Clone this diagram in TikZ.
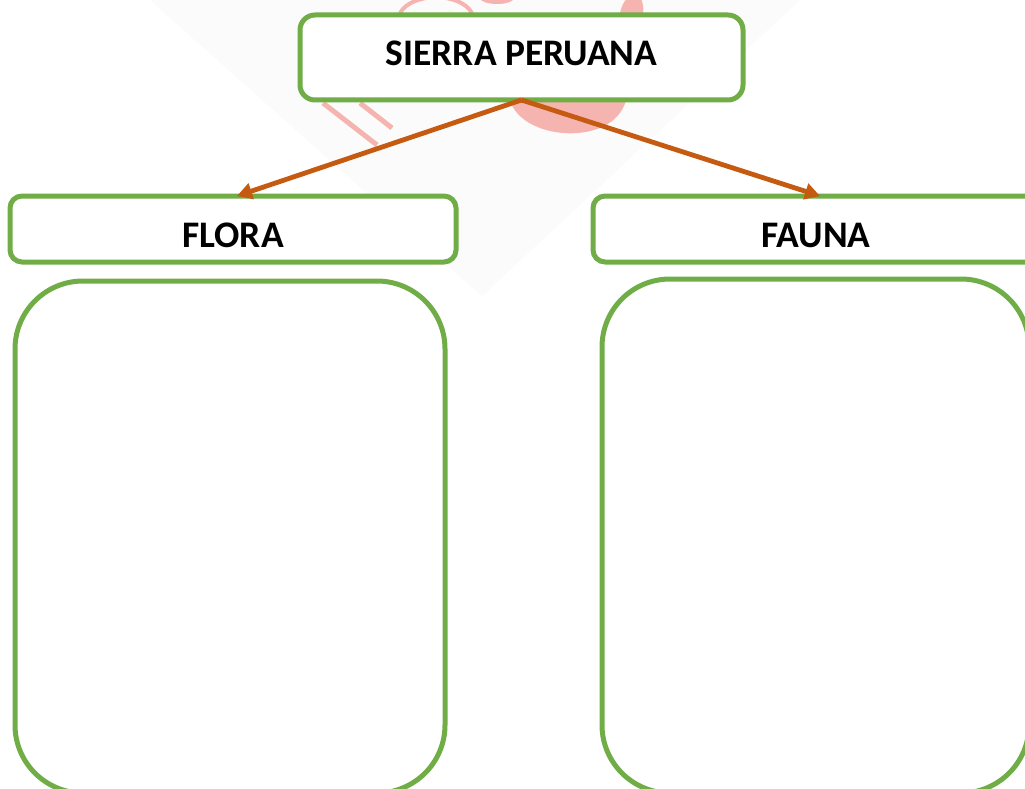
\documentclass[tikz,border=0pt]{standalone}
\usepackage{fontspec}
\setmainfont{Carlito}
\usetikzlibrary{arrows.meta}
\definecolor{boxgreen}{HTML}{70AD47}
\definecolor{arroworange}{HTML}{C55A11}
\definecolor{wmpink}{HTML}{F6A8A4}
\tikzset{
  greenbox/.style={draw=boxgreen, line width=5pt, fill=white, inner sep=0pt, outer sep=0pt,
    font=\bfseries\fontsize{37.5}{42}\selectfont, align=center},
  connector/.style={draw=arroworange, line width=4.8pt, -{Triangle[length=15pt,width=16pt]}},
  watermark/.style={wmpink, opacity=0.85},
}
\begin{document}
\begin{tikzpicture}[x=1pt,y=-1pt]
\useasboundingbox (0,0) rectangle (1025,789);
\fill[white] (0,0) rectangle (1025,789);
% faint watermark
\fill[black!1.5] (150,0) -- (482,296) -- (800,0) -- cycle;
\fill[watermark] (509,95) .. controls (514,142) and (620,150) .. (627,95) -- cycle;
\draw[watermark, line width=5pt] (323,103) -- (377,145);
\draw[watermark, line width=5pt] (360,103) -- (392,128);
\draw[watermark, line width=4pt] (400,13) .. controls (412,-8) and (460,-8) .. (472,13);
\fill[watermark] (497,-2) ellipse [x radius=17pt, y radius=6pt];
\fill[watermark] (620,13) .. controls (622,4) and (626,-2) .. (630,-4) -- (640,-4) .. controls (643,3) and (644,8) .. (643,13) -- cycle;
% boxes
\node[greenbox, rounded corners=15pt, minimum width=443pt, minimum height=85pt,
      text height=24pt, text depth=8pt] (top) at (521.5,57.5) {SIERRA PERUANA};
\node[greenbox, rounded corners=12pt, minimum width=446pt, minimum height=66pt,
      text height=37pt, text depth=0pt] (flora) at (233,229) {FLORA};
\node[greenbox, rounded corners=12pt, minimum width=446pt, minimum height=66pt,
      text height=37pt, text depth=0pt] (fauna) at (816,229) {FAUNA};
\node[greenbox, rounded corners=68pt, minimum width=430pt, minimum height=512pt] (floralist) at (230,537) {};
\node[greenbox, rounded corners=68pt, minimum width=427pt, minimum height=514pt] (faunalist) at (815.5,536) {};
% connectors
\draw[connector] (top.south) -- ([xshift=4pt]flora.north);
\draw[connector] (top.south) -- ([xshift=4pt]fauna.north);
\end{tikzpicture}
\end{document}
